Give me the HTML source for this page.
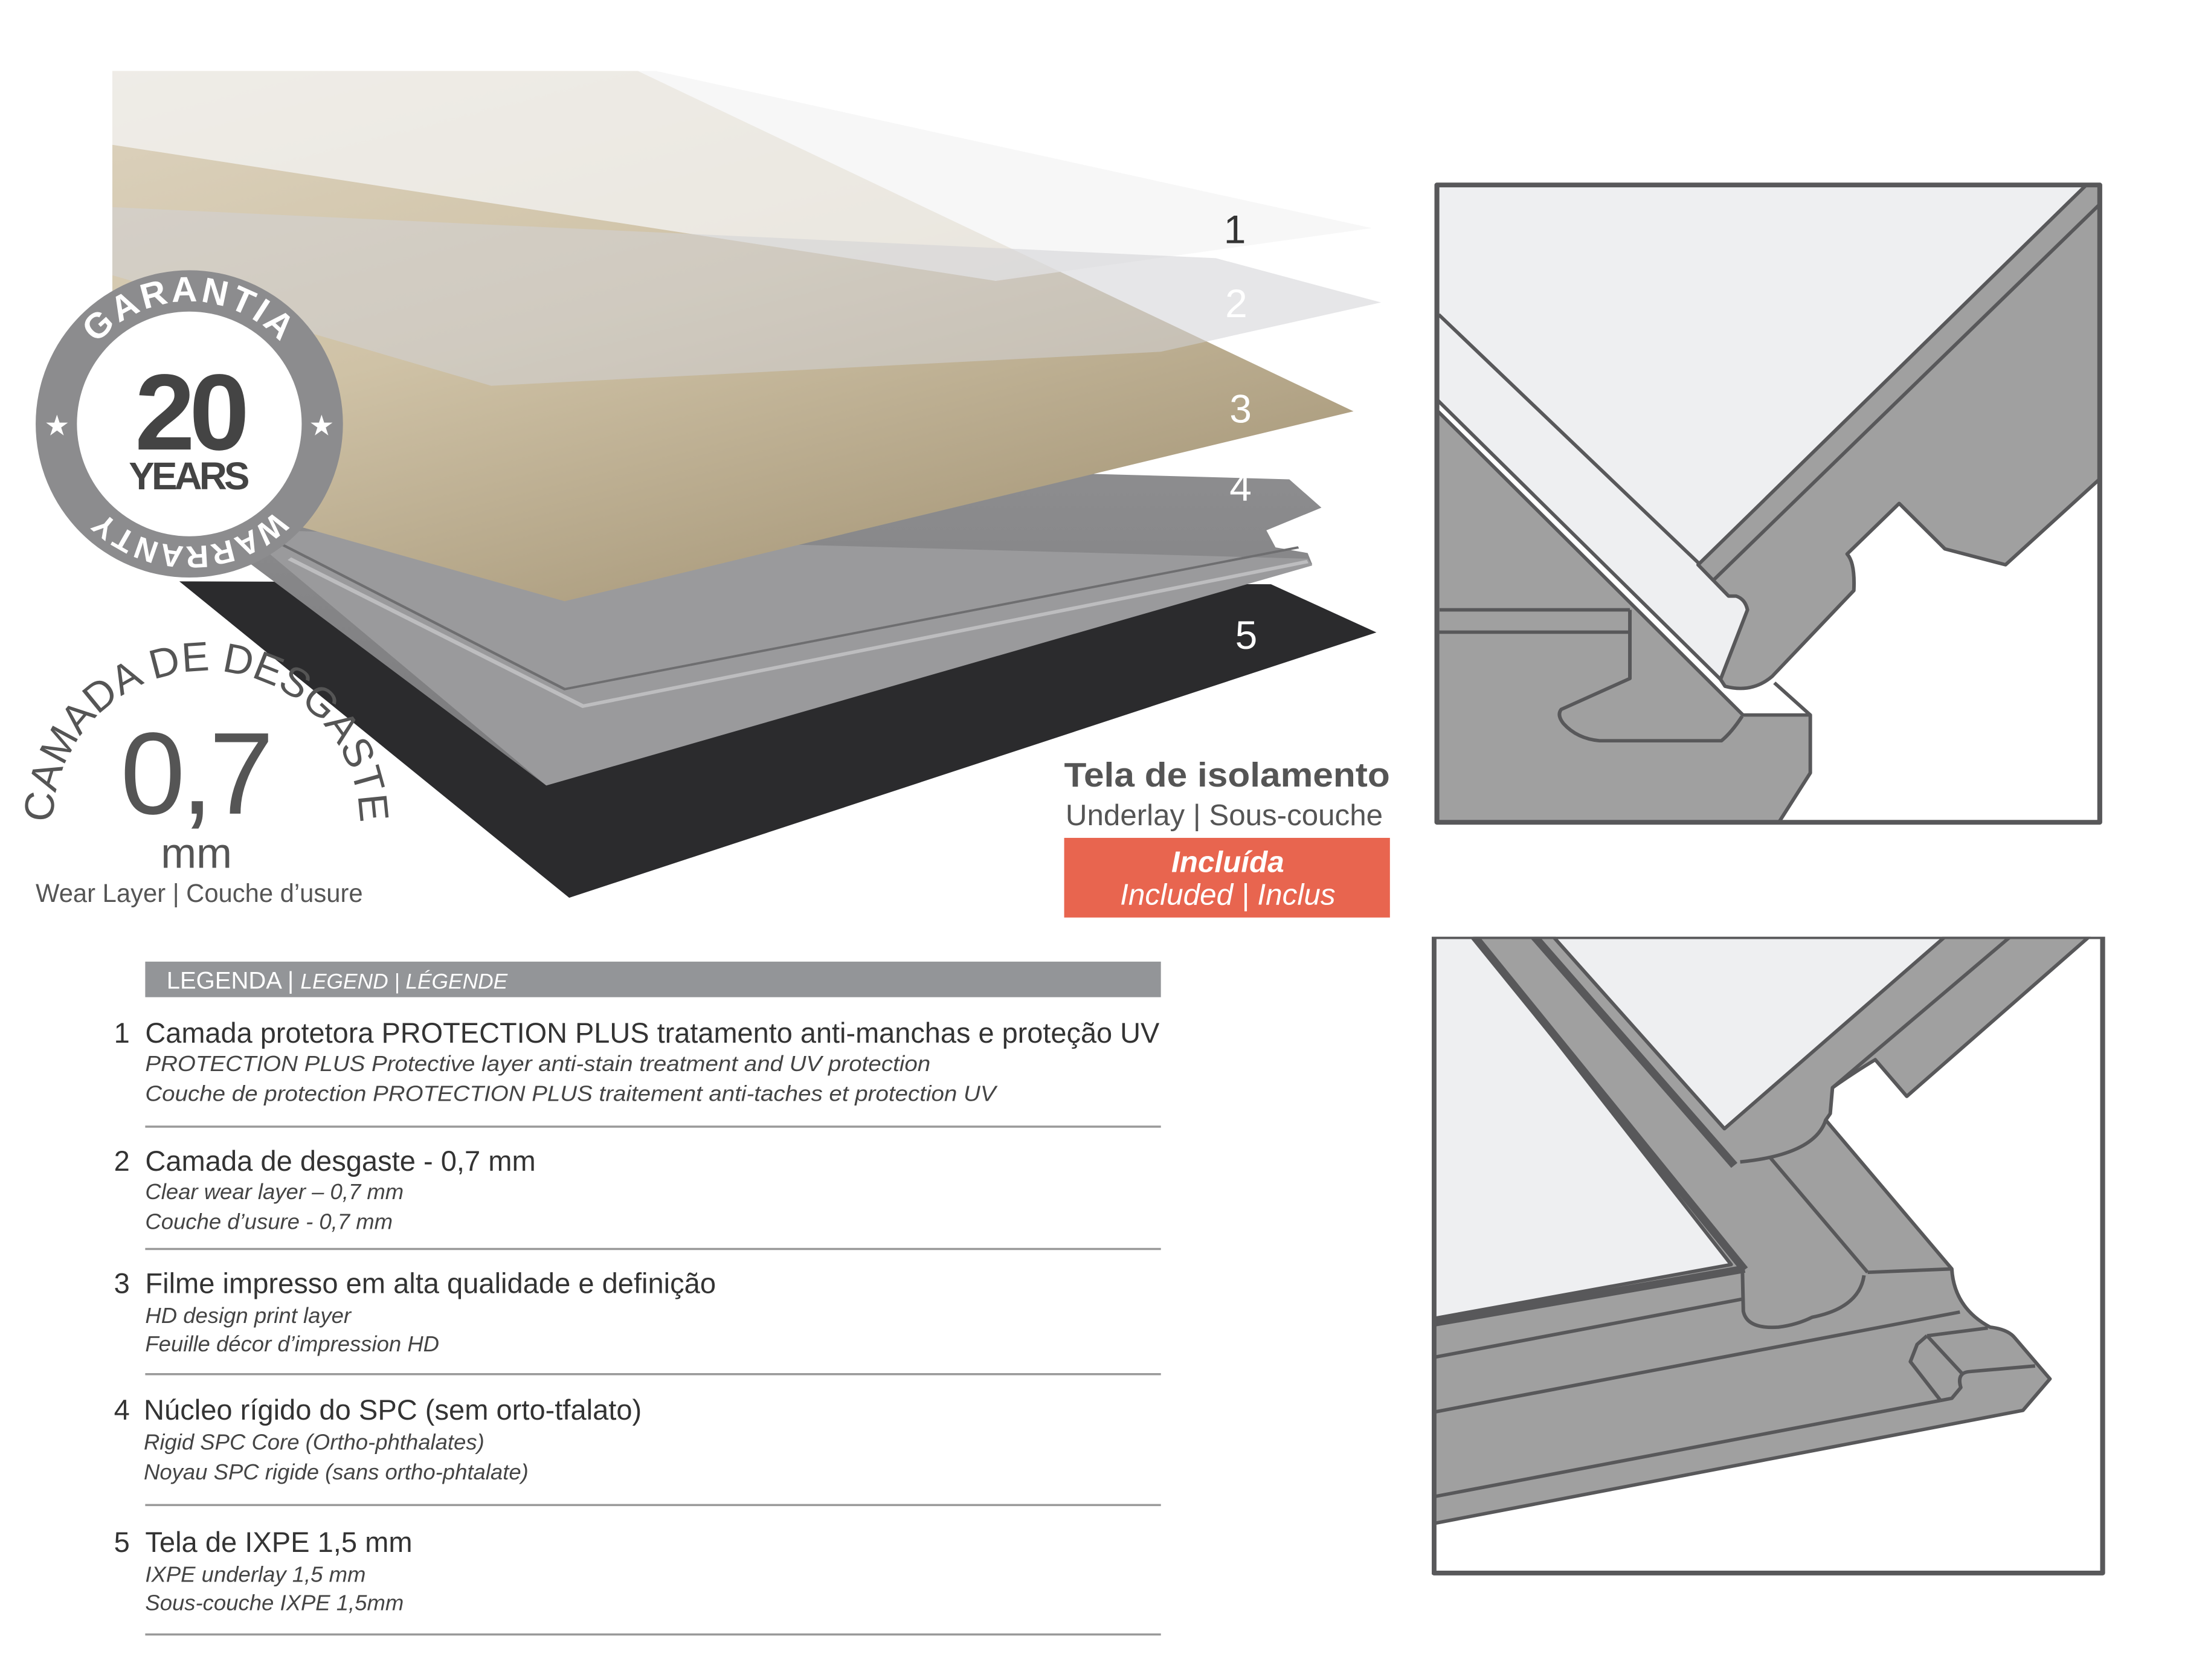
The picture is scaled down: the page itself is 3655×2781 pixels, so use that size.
<!DOCTYPE html>
<html><head><meta charset="utf-8"><style>
html,body{margin:0;padding:0;background:#fff;}
svg{display:block;}
text{font-family:"Liberation Sans",sans-serif;}
</style></head><body>
<svg width="3655" height="2781" viewBox="0 0 1552 1181" xmlns="http://www.w3.org/2000/svg">
<defs>
<linearGradient id="wood" x1="0" y1="0" x2="0.6" y2="1">
<stop offset="0" stop-color="#ddd3bf"/><stop offset="0.5" stop-color="#cfc2a6"/><stop offset="1" stop-color="#a99a7c"/>
</linearGradient>
<linearGradient id="core" x1="0" y1="0" x2="0" y2="1">
<stop offset="0" stop-color="#8e8e90"/><stop offset="1" stop-color="#7a7a7c"/>
</linearGradient>
<path id="arcTop" d="M47,298 A86,86 0 0 1 219,298"/>
<path id="arcBot" d="M219,298 A86,86 0 0 1 47,298"/>
<path id="arcCam" d="M42,612 A108,108 0 1 1 248,612"/>
</defs>

<svg x="-3" y="42" width="1006" height="621.8" viewBox="0 0 1560 1560" preserveAspectRatio="none">
<polygon points="200,920 1390,925 1505,1010 625,1478" fill="#2b2b2d"/>
<polygon points="290,690 1410,740 1445,790 1385,830 1395,860 1430,870 1435,890 600,1280 270,880" fill="url(#core)"/>
<polygon points="300,830 1430,880 1435,892 600,1280 290,860" fill="#9a9a9c"/>
<polyline points="320,880 640,1140 1430,885" fill="none" stroke="#bdbdbf" stroke-width="6"/>
<polyline points="300,845 620,1110 1420,860" fill="none" stroke="#6e6e70" stroke-width="4"/>
<polygon points="127,20 700,20 1480,620 620,955 280,800 127,700" fill="url(#wood)"/>
<polygon points="127,20 720,20 1500,297 1090,390 127,150" fill="#f4f4f4" opacity="0.75"/>
<polygon points="127,260 1330,350 1510,428 1270,515 540,575 127,380" fill="#d2d2d6" opacity="0.55"/>
</svg>

<g font-size="28" fill="#fff" text-anchor="middle">
<text x="868" y="171" fill="#333">1</text><text x="869" y="223">2</text>
<text x="872" y="297">3</text><text x="872" y="352">4</text><text x="876" y="456">5</text>
</g>

<circle cx="133" cy="298" r="108" fill="#8c8c8e"/>
<circle cx="133" cy="298" r="79" fill="#fff"/>
<text font-size="25" font-weight="bold" fill="#fff" text-anchor="middle" letter-spacing="2"><textPath href="#arcTop" startOffset="50%">GARANTIA</textPath></text>
<text font-size="22" font-weight="bold" fill="#fff" text-anchor="middle" letter-spacing="1"><textPath href="#arcBot" startOffset="50%">WARRANTY</textPath></text>
<text x="40" y="306" font-size="20" fill="#fff" text-anchor="middle">★</text>
<text x="226" y="306" font-size="20" fill="#fff" text-anchor="middle">★</text>
<text x="133" y="316" font-size="76" font-weight="bold" fill="#444" text-anchor="middle" letter-spacing="-4">20</text>
<text x="132" y="344" font-size="27" font-weight="bold" fill="#444" text-anchor="middle" letter-spacing="-2">YEARS</text>

<text font-size="29" fill="#555" text-anchor="middle"><textPath href="#arcCam" startOffset="50%">CAMADA DE DESGASTE</textPath></text>
<text x="137" y="572" font-size="82" fill="#555" text-anchor="middle" letter-spacing="-3">0,7</text>
<text x="138" y="610" font-size="30" fill="#555" text-anchor="middle">mm</text>
<text x="25" y="634" font-size="18" fill="#555" textLength="230" lengthAdjust="spacingAndGlyphs">Wear Layer | Couche d’usure</text>

<text x="748" y="553" font-size="24" font-weight="bold" fill="#555" textLength="229" lengthAdjust="spacingAndGlyphs">Tela de isolamento</text>
<text x="749" y="580" font-size="21" fill="#555" textLength="223" lengthAdjust="spacingAndGlyphs">Underlay | Sous-couche</text>
<rect x="748" y="589" width="229" height="56" fill="#e8654f"/>
<text x="863" y="613" font-size="21" font-weight="bold" font-style="italic" fill="#fff" text-anchor="middle">Incluída</text>
<text x="863" y="636" font-size="21" font-style="italic" fill="#fff" text-anchor="middle">Included | Inclus</text>

<svg x="1007.5" y="124" width="489" height="464.6" viewBox="0 0 1550 1540" preserveAspectRatio="none">
<g stroke="#58585a" stroke-width="8" stroke-linejoin="round" fill="none">
<rect x="8" y="20" width="1477" height="1485" fill="#fff" stroke="none"/>
<path d="M8,20 L1455,20 L590,905 L658,978 L675,978 Q695,985 700,1010 L640,1172 L8,520 Z" fill="#eeeff1" stroke="none"/>
<path d="M1455,20 L1485,20 L1485,705 L1275,905 L1140,868 L1038,762 L922,880 Q940,900 937,965 L755,1165 Q710,1205 650,1188 L640,1172 L700,1010 Q695,985 675,978 L658,978 L590,905 Z" fill="#a0a0a0"/>
<line x1="1485" y1="65" x2="625" y2="940"/>
<line x1="12" y1="322" x2="595" y2="905"/>
<path d="M8,545 L690,1255 L840,1255 L840,1390 L770,1505 L8,1505 Z" fill="#a0a0a0"/>
<line x1="8" y1="520" x2="640" y2="1172"/>
<line x1="14" y1="1010" x2="438" y2="1010"/>
<line x1="8" y1="1062" x2="435" y2="1062"/>
<path d="M438,1010 L438,1170 L285,1242 Q275,1255 290,1275 Q320,1310 370,1315 L642,1315 Q665,1295 688,1258"/>
<line x1="760" y1="1180" x2="840" y2="1255"/>
<rect x="8" y="20" width="1477" height="1485" stroke-width="11"/>
</g>
</svg>

<svg x="1006.4" y="658.5" width="490.6" height="467" viewBox="0 0 1550 1540" preserveAspectRatio="none">
<g stroke="#58585a" stroke-width="8" stroke-linejoin="round" fill="none">
<rect x="5" y="0" width="1485" height="1475" fill="#fff" stroke="none"/>
<path d="M5,0 L95,0 L665,760 L5,885 Z" fill="#eeeff1" stroke="none"/>
<path d="M270,0 L1140,0 L648,440 Z" fill="#eeeff1" stroke="none"/>
<path d="M95,0 L270,0 L650,445 L1140,0 L1460,0 L1055,370 L985,285 Q930,320 890,350 L885,410 L875,425 L1155,770 Q1160,860 1240,905 Q1280,910 1295,930 L1373,1025 L1313,1098 L5,1360 L5,885 L665,760 Z" fill="#a0a0a0"/>
<line x1="95" y1="0" x2="695" y2="772" stroke-width="18"/>
<line x1="228" y1="0" x2="672" y2="530" stroke-width="18"/>
<line x1="5" y1="895" x2="695" y2="770" stroke-width="18"/>
<line x1="1285" y1="0" x2="890" y2="350"/>
<path d="M685,522 Q850,505 875,425"/>
<line x1="750" y1="510" x2="968" y2="778"/>
<line x1="968" y1="778" x2="1155" y2="770"/>
<path d="M690,772 L692,868 Q700,910 770,905 Q810,900 845,882 Q950,860 960,785"/>
<line x1="5" y1="975" x2="690" y2="840"/>
<line x1="5" y1="1102" x2="1173" y2="870"/>
<line x1="5" y1="1298" x2="1130" y2="1075"/>
<path d="M1130,1075 L1155,1070 L1175,1045 Q1165,1010 1195,1008 L1340,995"/>
<path d="M1100,925 L1235,907"/>
<path d="M1100,925 L1078,945 L1063,985 L1130,1075"/>
<line x1="1100" y1="925" x2="1180" y2="1015"/>
<rect x="5" y="0" width="1485" height="1475" stroke-width="11"/>
</g>
</svg>

<rect x="102" y="676" width="714" height="25" fill="#939598"/>
<text x="117" y="695" font-size="17" fill="#fff">LEGENDA | <tspan font-style="italic" font-size="15">LEGEND | LÉGENDE</tspan></text>
<g fill="#333" font-size="20">
<text x="80" y="733">1</text><text x="102" y="733" textLength="713" lengthAdjust="spacingAndGlyphs">Camada protetora PROTECTION PLUS tratamento anti-manchas e proteção UV</text>
<text x="80" y="823">2</text><text x="102" y="823">Camada de desgaste - 0,7 mm</text>
<text x="80" y="909">3</text><text x="102" y="909">Filme impresso em alta qualidade e definição</text>
<text x="80" y="998">4</text><text x="101" y="998">Núcleo rígido do SPC (sem orto-tfalato)</text>
<text x="80" y="1091">5</text><text x="102" y="1091">Tela de IXPE 1,5 mm</text>
</g>
<g fill="#444" font-size="15.5" font-style="italic">
<text x="102" y="753" textLength="552" lengthAdjust="spacingAndGlyphs">PROTECTION PLUS Protective layer anti-stain treatment and UV protection</text>
<text x="102" y="774" textLength="598" lengthAdjust="spacingAndGlyphs">Couche de protection PROTECTION PLUS traitement anti-taches et protection UV</text>
<text x="102" y="843">Clear wear layer – 0,7 mm</text>
<text x="102" y="864">Couche d’usure - 0,7 mm</text>
<text x="102" y="930">HD design print layer</text>
<text x="102" y="950">Feuille décor d’impression HD</text>
<text x="101" y="1019">Rigid SPC Core (Ortho-phthalates)</text>
<text x="101" y="1040">Noyau SPC rigide (sans ortho-phtalate)</text>
<text x="102" y="1112">IXPE underlay 1,5 mm</text>
<text x="102" y="1132">Sous-couche IXPE 1,5mm</text>
</g>
<g stroke="#999" stroke-width="1.5">
<line x1="102" y1="792" x2="816" y2="792"/>
<line x1="102" y1="878" x2="816" y2="878"/>
<line x1="102" y1="966" x2="816" y2="966"/>
<line x1="102" y1="1058" x2="816" y2="1058"/>
<line x1="102" y1="1149" x2="816" y2="1149"/>
</g>
</svg>
</body></html>
